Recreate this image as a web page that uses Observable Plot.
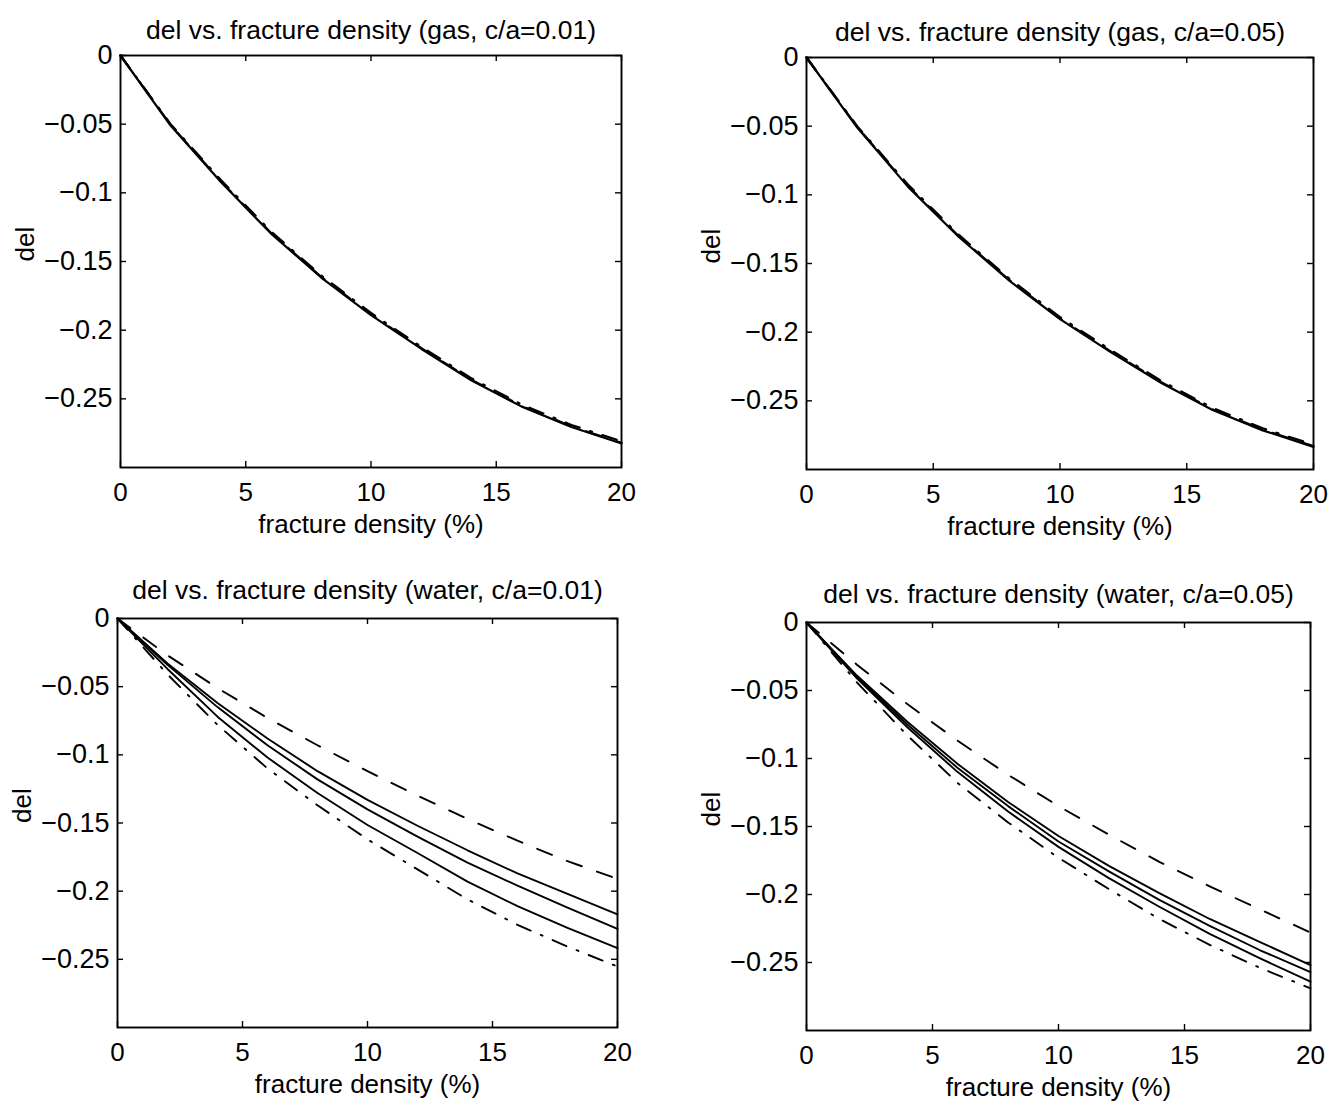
<!DOCTYPE html>
<html><head><meta charset="utf-8">
<script src="https://cdn.jsdelivr.net/npm/d3@7"></script>
<script src="https://cdn.jsdelivr.net/npm/@observablehq/plot@0.6"></script>
<style>
body{margin:0;background:#fff;}
#root{position:relative;width:1333px;height:1105px;background:#fff;overflow:hidden;}
</style></head><body><div id="root"></div>
<script>
// ---- data ----
const xs = [0, 2, 4, 6, 8, 10, 12, 14, 16, 18, 20];
const xTicks = [0, 5, 10, 15, 20];
const xTickLabels = ["0", "5", "10", "15", "20"];
const yTicks = [0, -0.05, -0.1, -0.15, -0.2, -0.25];
const yTickLabels = ["0", "\u22120.05", "\u22120.1", "\u22120.15", "\u22120.2", "\u22120.25"];

// gas, c/a = 0.01
const gas01Solid   = [0, -0.051, -0.092, -0.1295, -0.1615, -0.189, -0.2135, -0.2365, -0.2555, -0.2705, -0.2825];
const gas01Dashed  = [0, -0.0505, -0.0915, -0.129, -0.161, -0.1885, -0.213, -0.236, -0.255, -0.270, -0.282];
const gas01DashDot = [0, -0.050, -0.0905, -0.128, -0.160, -0.1875, -0.212, -0.235, -0.254, -0.269, -0.281];
// gas, c/a = 0.05
const gas05Solid   = [0, -0.051, -0.094, -0.1305, -0.1625, -0.1905, -0.2145, -0.237, -0.2565, -0.2715, -0.2835];
const gas05Dashed  = [0, -0.0505, -0.0935, -0.130, -0.162, -0.190, -0.214, -0.2365, -0.256, -0.271, -0.283];
const gas05DashDot = [0, -0.050, -0.0925, -0.129, -0.161, -0.189, -0.213, -0.2355, -0.255, -0.270, -0.282];
// water, c/a = 0.01
const w01Dashed  = [0, -0.027, -0.051, -0.073, -0.093, -0.112, -0.130, -0.147, -0.163, -0.178, -0.191];
const w01Solid1  = [0, -0.033, -0.062, -0.088, -0.112, -0.133, -0.152, -0.170, -0.187, -0.202, -0.217];
const w01Solid2  = [0, -0.034, -0.065, -0.093, -0.118, -0.140, -0.160, -0.179, -0.196, -0.212, -0.2277];
const w01Solid3  = [0, -0.037, -0.072, -0.102, -0.128, -0.1515, -0.172, -0.193, -0.211, -0.227, -0.2418];
const w01DashDot = [0, -0.041, -0.078, -0.110, -0.137, -0.162, -0.184, -0.206, -0.2247, -0.2406, -0.2553];
// water, c/a = 0.05
const w05Dashed  = [0, -0.031, -0.060, -0.087, -0.112, -0.135, -0.156, -0.176, -0.194, -0.211, -0.228];
const w05Solid1  = [0, -0.039, -0.073, -0.104, -0.132, -0.157, -0.179, -0.199, -0.218, -0.235, -0.252];
const w05Solid2  = [0, -0.040, -0.075, -0.107, -0.135, -0.161, -0.183, -0.204, -0.223, -0.241, -0.257];
const w05Solid3  = [0, -0.041, -0.077, -0.110, -0.139, -0.165, -0.188, -0.209, -0.229, -0.247, -0.264];
const w05DashDot = [0, -0.044, -0.083, -0.118, -0.147, -0.173, -0.196, -0.218, -0.237, -0.254, -0.269];

const titles = [
  "del vs. fracture density (gas, c/a=0.01)",
  "del vs. fracture density (gas, c/a=0.05)",
  "del vs. fracture density (water, c/a=0.01)",
  "del vs. fracture density (water, c/a=0.05)"
];
const xLabel = "fracture density (%)";
const yLabel = "del";

// ---- layout / style ----
const DASH = "16,16", DASHDOT = "15,11,2,11", SOLID = null;
const panels = [
  {title: titles[0], titleDy: -17, lw: 2.2, box: {l: 120, t: 55, r: 621, b: 467},
   series: [[gas01Dashed, DASH], [gas01DashDot, DASHDOT], [gas01Solid, SOLID]]},
  {title: titles[1], titleDy: -17, lw: 2.2, box: {l: 806, t: 57, r: 1313, b: 469},
   series: [[gas05Dashed, DASH], [gas05DashDot, DASHDOT], [gas05Solid, SOLID]]},
  {title: titles[2], titleDy: -20, lw: 1.9, box: {l: 117, t: 618, r: 617, b: 1027},
   series: [[w01Dashed, DASH], [w01Solid1, SOLID], [w01Solid2, SOLID], [w01Solid3, SOLID], [w01DashDot, DASHDOT]]},
  {title: titles[3], titleDy: -20, lw: 1.9, box: {l: 806, t: 622, r: 1310, b: 1030},
   series: [[w05Dashed, DASH], [w05Solid1, SOLID], [w05Solid2, SOLID], [w05Solid3, SOLID], [w05DashDot, DASHDOT]]}
];

const FONT = "'Liberation Sans', Arial, Helvetica, sans-serif";
const root = document.getElementById("root");
const ML = 115, MR = 20, MT = 50, MB = 75, TICK = 6;

for (const p of panels) {
  const w = p.box.r - p.box.l, h = p.box.b - p.box.t;
  const marks = [
    ...p.series.map(([vals, dash]) =>
      Plot.line(vals, {x: (d, i) => xs[i], y: d => d, stroke: "black", strokeWidth: p.lw,
        strokeDasharray: dash, strokeLinejoin: "round"})),
    Plot.frame({stroke: "black", strokeWidth: 1.9}),
    Plot.ruleX(xTicks, {x: d => d, insetTop: h - TICK, stroke: "black", strokeWidth: 1.4}),
    Plot.ruleX(xTicks, {x: d => d, insetBottom: h - TICK, stroke: "black", strokeWidth: 1.4}),
    Plot.ruleY(yTicks, {y: d => d, insetRight: w - TICK, stroke: "black", strokeWidth: 1.4}),
    Plot.ruleY(yTicks, {y: d => d, insetLeft: w - TICK, stroke: "black", strokeWidth: 1.4}),
    Plot.axisX(xTicks, {tickSize: 0, tickPadding: 15, fontSize: 26, label: null,
      tickFormat: d => xTickLabels[xTicks.indexOf(d)]}),
    Plot.axisY(yTicks, {tickSize: 0, tickPadding: 8, fontSize: 27, label: null,
      tickFormat: d => yTickLabels[yTicks.indexOf(d)]}),
    Plot.text([p.title], {frameAnchor: "top", lineAnchor: "bottom", dy: p.titleDy, fontSize: 26.5, fill: "black"}),
    Plot.text([xLabel], {frameAnchor: "bottom", lineAnchor: "bottom", dy: 65, fontSize: 26, fill: "black"}),
    Plot.text([yLabel], {frameAnchor: "left", rotate: -90, lineAnchor: "bottom", dx: -87, fontSize: 26, fill: "black"})
  ];
  const svg = Plot.plot({
    width: w + ML + MR, height: h + MT + MB,
    marginLeft: ML, marginRight: MR, marginTop: MT, marginBottom: MB,
    x: {domain: [0, 20]},
    y: {domain: [-0.3, 0]},
    style: {fontFamily: FONT, fontSize: "26px", color: "black", background: "transparent", overflow: "visible"},
    marks
  });
  svg.style.position = "absolute";
  svg.style.left = (p.box.l - ML) + "px";
  svg.style.top = (p.box.t - MT) + "px";
  root.appendChild(svg);
}
</script></body></html>
